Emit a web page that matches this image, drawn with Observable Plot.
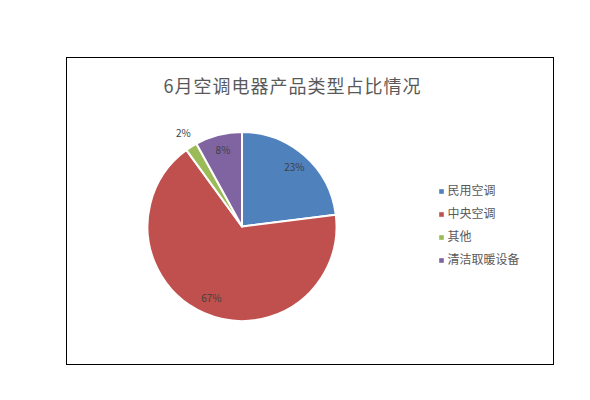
<!DOCTYPE html>
<html>
<head>
<meta charset="utf-8">
<script src="https://cdn.jsdelivr.net/npm/d3@7"></script>
<script src="https://cdn.jsdelivr.net/npm/@observablehq/plot@0.6"></script>
<style>
  html, body { margin: 0; padding: 0; background: #fff; }
  svg { display: block; }
</style>
</head>
<body>
<div id="chart"></div>
<script>
const title = "6月空调电器产品类型占比情况";
const categories = ["民用空调", "中央空调", "其他", "清洁取暖设备"];
const shares = [23, 67, 2, 8];
const colors = ["#4F81BD", "#C0504D", "#9BBB59", "#8064A2"];

const font = "'Noto Sans CJK SC', 'Noto Sans', sans-serif";
const cx = 242, cy = 226.5, R = 94.5;

const data = categories.map((c, i) => ({category: c, value: shares[i]}));
const arcs = d3.pie().sort(null).value(d => d.value)(data);
const labels = arcs.map(a => {
  const mid = (a.startAngle + a.endAngle) / 2;
  const outside = a.data.value < 5;
  const r = outside ? R + 16 : R * 0.83;
  return {
    label: a.data.value + "%",
    x: cx + Math.sin(mid) * r,
    y: cy - Math.cos(mid) * r
  };
});
const legend = categories.map((c, i) => ({category: c, y: 191 + i * 23}));

function pieMark(index, scales) {
  const g = d3.create("svg:g");
  const arc = d3.arc().innerRadius(0).outerRadius(R);
  g.attr("transform", `translate(${scales.x(cx)},${scales.y(cy)})`);
  g.selectAll("path").data(arcs).join("path")
    .attr("d", arc)
    .attr("fill", d => scales.color(d.data.category))
    .attr("stroke", "#fff")
    .attr("stroke-width", 2)
    .attr("stroke-linejoin", "round");
  return g.node();
}

const chart = Plot.plot({
  width: 590,
  height: 400,
  marginLeft: 66,
  marginTop: 57,
  marginRight: 37,
  marginBottom: 36,
  style: {fontFamily: font, background: "#fff"},
  x: {type: "identity", axis: null},
  y: {type: "identity", axis: null},
  color: {domain: categories, range: colors},
  marks: [
    Plot.frame({stroke: "#000", strokeWidth: 1, shapeRendering: "crispEdges"}),
    pieMark,
    Plot.text([title], {x: () => 292, y: () => 87, text: d => d, fontSize: 18, fill: "#595959", fontFamily: font, style: "letter-spacing:0.9px"}),
    Plot.text(labels, {x: "x", y: "y", text: "label", fontSize: 10, fill: "#404040", fontFamily: font}),
    Plot.dot(legend, {x: () => 441, y: "y", symbol: "square", r: 2.6, fill: "category", stroke: null}),
    Plot.text(legend, {x: () => 447, y: "y", text: "category", textAnchor: "start", fontSize: 12, fill: "#595959", fontFamily: font})
  ]
});
chart.querySelectorAll("text").forEach(t => {
  if (t.textContent === title) t.setAttribute("letter-spacing", "1");
});
document.getElementById("chart").append(chart);
</script>
</body>
</html>
